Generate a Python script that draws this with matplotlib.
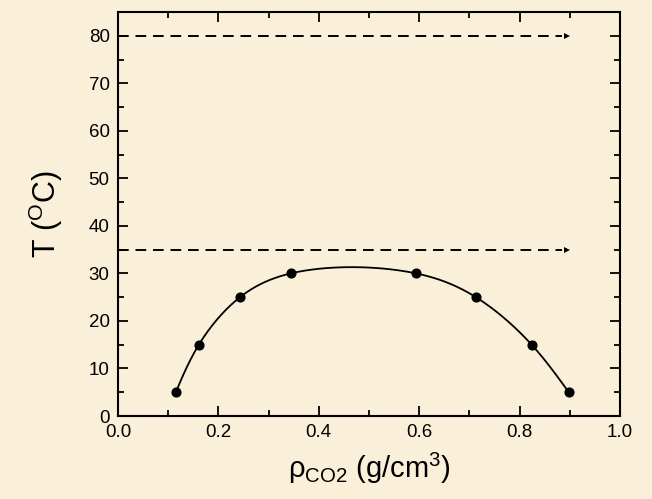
import matplotlib
matplotlib.use("Agg")
import matplotlib.pyplot as plt
import numpy as np
from matplotlib.ticker import MultipleLocator, FormatStrFormatter

plt.rcParams['font.family'] = ['Liberation Sans', 'DejaVu Sans']
plt.rcParams['mathtext.fontset'] = 'custom'
plt.rcParams['mathtext.rm'] = 'Liberation Sans'
plt.rcParams['mathtext.it'] = 'Liberation Sans'
plt.rcParams['mathtext.default'] = 'regular'

# coexistence data: temperature levels with gas / liquid densities
temps = [5, 15, 25, 30]
rho_gas = [0.115, 0.161, 0.243, 0.344]
rho_liq = [0.898, 0.824, 0.713, 0.594]
isotherms = [35, 80]
arrow_end = 0.903

bg = '#FAEFD9'


def natural_spline(s, v, n=600):
    # natural cubic spline of v over parameter s
    k = len(s)
    h = np.diff(s)
    A = np.zeros((k, k))
    r = np.zeros(k)
    A[0, 0] = A[-1, -1] = 1
    for i in range(1, k - 1):
        A[i, i - 1] = h[i - 1]
        A[i, i] = 2 * (h[i - 1] + h[i])
        A[i, i + 1] = h[i]
        r[i] = 6 * ((v[i + 1] - v[i]) / h[i] - (v[i] - v[i - 1]) / h[i - 1])
    M = np.linalg.solve(A, r)
    ss = np.linspace(s[0], s[-1], n)
    j = np.clip(np.searchsorted(s, ss) - 1, 0, k - 2)
    a = s[j + 1] - ss
    b = ss - s[j]
    out = (M[j] * a ** 3 + M[j + 1] * b ** 3) / (6 * h[j]) \
        + (v[j] / h[j] - M[j] * h[j] / 6) * a \
        + (v[j + 1] / h[j] - M[j + 1] * h[j] / 6) * b
    return out


fig = plt.figure(figsize=(6.52, 4.99), dpi=100, facecolor=bg)
ax = fig.add_axes([0.181, 0.1663, 0.7699, 0.8097])
ax.set_facecolor(bg)

px = np.array(rho_gas + rho_liq[::-1])
py = np.array(temps + temps[::-1], float)

# smooth dome through the points
sx, sy = px * 502, py * 4.75
steps = np.hypot(np.diff(sx), np.diff(sy)) ** 0.75
s = np.concatenate([[0], np.cumsum(steps)])
ax.plot(natural_spline(s, px), natural_spline(s, py), color='black', lw=1.3)

ax.plot(px, py, 'o', color='black', ms=6.3)

for y in isotherms:
    ax.plot([0, arrow_end - 0.018], [y, y], color='black', lw=1.4,
            dashes=(5.5, 3.5))
    ax.plot(arrow_end - 0.008, y, marker='>', color='black', ms=5,
            markeredgewidth=0)

ax.set_xlim(0, 1.0)
ax.set_ylim(0, 85)
ax.xaxis.set_major_locator(MultipleLocator(0.2))
ax.xaxis.set_minor_locator(MultipleLocator(0.1))
ax.yaxis.set_major_locator(MultipleLocator(10))
ax.yaxis.set_minor_locator(MultipleLocator(5))
ax.xaxis.set_major_formatter(FormatStrFormatter('%.1f'))
ax.tick_params(which='both', direction='in', top=True, right=True,
               width=1.3, labelsize=13.5, pad=6)
ax.tick_params(which='major', length=7)
ax.tick_params(which='minor', length=4)
for sp in ax.spines.values():
    sp.set_linewidth(1.5)

ax.set_xlabel(r'$\rho_{CO2}$ (g/cm$^3$)', fontsize=21, labelpad=7)
ax.set_ylabel(r'T ($^O$C)', fontsize=22, labelpad=17)

fig.savefig('out.png', dpi=100, facecolor=bg)
